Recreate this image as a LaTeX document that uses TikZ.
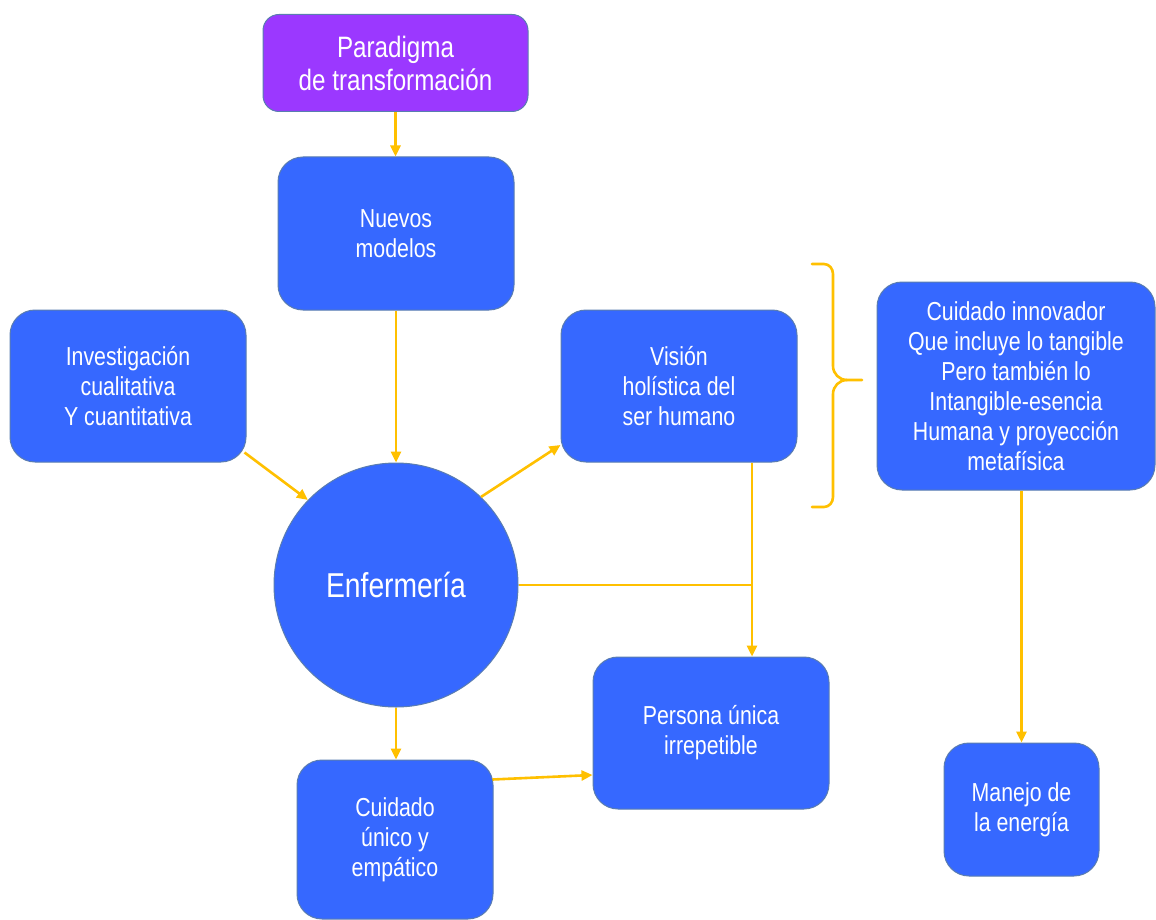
\documentclass[tikz,border=0pt]{standalone}
\usepackage{fontspec}
\setmainfont[FakeStretch=0.82]{Liberation Sans}
\usetikzlibrary{arrows.meta}

\definecolor{boxblue}{HTML}{3668FF}
\definecolor{paradigmviolet}{HTML}{9B38FF}
\definecolor{edgeline}{HTML}{5A7DB0}
\definecolor{linkgold}{HTML}{FFC000}

\tikzset{
  box/.style={draw=edgeline, line width=1pt, fill=boxblue, rounded corners=25pt,
    text=white, align=center, inner sep=0pt, font=\fontsize{26}{30}\selectfont},
  link/.style={draw=linkgold, line width=2.6pt, -{Triangle[length=11pt,width=10pt]}},
  plainlink/.style={draw=linkgold, line width=2.6pt}
}

\begin{document}
\begin{tikzpicture}[x=1pt,y=-1pt]
  \fill[white] (0,0) rectangle (1156,920);
  \useasboundingbox (0,0) rectangle (1156,920);

  % nodes
  \node[box, fill=paradigmviolet, rounded corners=16pt, minimum width=265pt, minimum height=97pt,
        font=\fontsize{29.5}{33}\selectfont] (para) at (395.5,63) {Paradigma\\de transformación};
  \node[box, minimum width=236pt, minimum height=153pt] (nuevos) at (396,233.5) {Nuevos\\modelos};
  \node[box, minimum width=236pt, minimum height=152pt] (inv) at (128,386) {Investigación\\cualitativa\\Y cuantitativa};
  \node[box, minimum width=236pt, minimum height=152pt] (vis) at (679,386) {Visión\\holística del\\ser humano};
  \node[box, minimum width=278pt, minimum height=208pt] (inno) at (1016,386)
       {Cuidado innovador\\Que incluye lo tangible\\Pero también lo\\Intangible-esencia\\Humana y proyección\\metafísica};
  \node[box, circle, minimum size=244pt, font=\fontsize{34.5}{38}\selectfont] (enf) at (396,585) {Enfermería};
  \node[box, minimum width=236pt, minimum height=152pt] (pers) at (711,733) {Persona única\\irrepetible};
  \node[box, minimum width=196pt, minimum height=159pt] (cuid) at (395,839.5) {Cuidado\\único y\\empático};
  \node[box, minimum width=155pt, minimum height=133pt] (man) at (1021.5,809.5) {Manejo de\\la energía};

  % connectors
  \draw[link] (para.south) -- (para.south |- nuevos.north);
  \draw[link] (nuevos.south) -- (enf.north);
  \draw[link] ([xshift=-2pt,yshift=10pt]inv.south east) -- (enf.136);
  \draw[link] (enf.46) -- ([yshift=-59pt]vis.west);
  \coordinate (vj) at ([xshift=73pt]vis.south);
  \draw[link] (vj) -- (vj |- pers.north);
  \draw[plainlink] (enf.east) -- (enf.east -| vj);
  \draw[link] (enf.south) -- (enf.south |- cuid.north);
  \draw[link] ([xshift=-1pt,yshift=-20pt]cuid.north east) -- ([yshift=-42pt]pers.west);
  \draw[link] (man.north |- inno.south) -- (man.north);

  % brace grouping the holistic view
  \draw[plainlink, line cap=round]
    (812,264) -- (824,264) to[out=0,in=90] (833,274) -- (833,366)
    to[out=-90,in=180] (847,380) -- (862,380);
  \draw[plainlink, line cap=round]
    (812,507) -- (824,507) to[out=0,in=-90] (833,497) -- (833,394)
    to[out=90,in=180] (847,380);
\end{tikzpicture}
\end{document}
